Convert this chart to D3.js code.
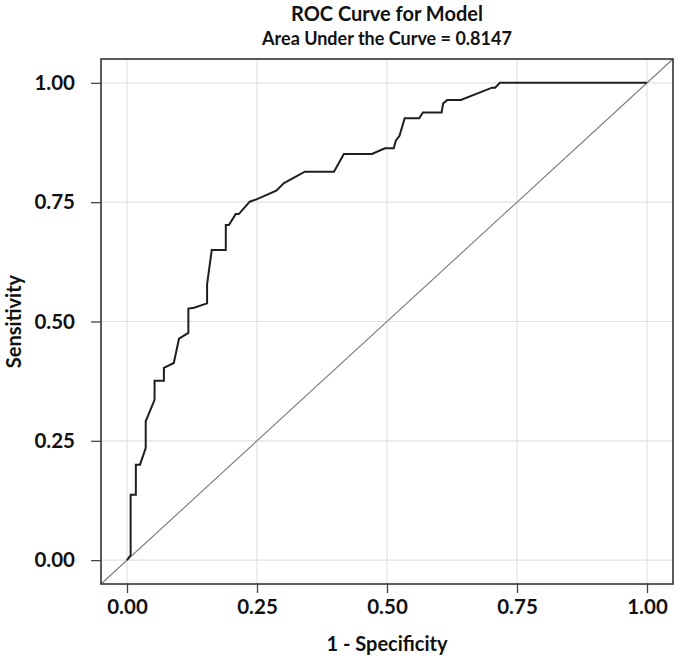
<!DOCTYPE html>
<html>
<head>
<meta charset="utf-8">
<script src="https://cdn.jsdelivr.net/npm/d3@7"></script>
<style>
  body { margin: 0; background: #fff; }
  text { font-family: Lato, "Open Sans", sans-serif; font-weight: 700; fill: #111; }
</style>
</head>
<body>
<script>
// ROC points (false positive rate, true positive rate)
var fpr = [0, 0.007, 0.007, 0.017, 0.017, 0.025, 0.036, 0.036, 0.053, 0.053, 0.071, 0.071, 0.090, 0.100, 0.118, 0.118,
           0.129, 0.154, 0.154, 0.163, 0.190, 0.190, 0.196, 0.209, 0.215, 0.236, 0.249, 0.287, 0.302, 0.315, 0.342,
           0.398, 0.417, 0.471, 0.496, 0.513, 0.517, 0.524, 0.534, 0.562, 0.569, 0.605, 0.608, 0.616, 0.642, 0.702,
           0.708, 0.717, 1]
var tpr = [0, 0.0105, 0.137, 0.137, 0.200, 0.200, 0.235, 0.291, 0.336, 0.376, 0.376, 0.403, 0.413, 0.464, 0.476, 0.527,
           0.529, 0.538, 0.578, 0.650, 0.650, 0.702, 0.702, 0.725, 0.725, 0.751, 0.756, 0.774, 0.790, 0.798, 0.814,
           0.814, 0.851, 0.851, 0.863, 0.863, 0.879, 0.889, 0.926, 0.926, 0.938, 0.938, 0.957, 0.964, 0.964, 0.990,
           0.990, 1, 1]
var ticks = [0, 0.25, 0.5, 0.75, 1]
var title = "ROC Curve for Model"
var subtitle = "Area Under the Curve = 0.8147"

var W = 678, H = 661
var pLeft = 101, pRight = 673, pTop = 59, pBottom = 584

var svg = d3.select("body").append("svg").attr("width", W).attr("height", H)
svg.append("rect").attr("width", W).attr("height", H).attr("fill", "#fff")

var x = d3.scaleLinear().domain([-0.05, 1.05]).range([pLeft, pRight])
var y = d3.scaleLinear().domain([-0.05, 1.05]).range([pBottom, pTop])

// grid
svg.append("g").selectAll("line").data(ticks).enter().append("line")
    .attr("x1", d => x(d)).attr("x2", d => x(d)).attr("y1", pTop).attr("y2", pBottom)
    .attr("stroke", "#e2e2e2").attr("stroke-width", 1.2)
svg.append("g").selectAll("line").data(ticks).enter().append("line")
    .attr("y1", d => y(d)).attr("y2", d => y(d)).attr("x1", pLeft).attr("x2", pRight)
    .attr("stroke", "#e2e2e2").attr("stroke-width", 1.2)

// chance diagonal across the whole panel
svg.append("line")
    .attr("x1", x(-0.05)).attr("y1", y(-0.05)).attr("x2", x(1.05)).attr("y2", y(1.05))
    .attr("stroke", "#7a7a7a").attr("stroke-width", 1.1)

// roc curve
var pts = fpr.map((d, i) => [d, tpr[i]])
svg.append("path").datum(pts)
    .attr("d", d3.line().x(d => x(d[0])).y(d => y(d[1])))
    .attr("fill", "none").attr("stroke", "#1e1e1e").attr("stroke-width", 2)

// panel border
svg.append("rect").attr("x", pLeft).attr("y", pTop).attr("width", pRight - pLeft).attr("height", pBottom - pTop)
    .attr("fill", "none").attr("stroke", "#333").attr("stroke-width", 1.6)

// axes
var fmt = d3.format(".2f")
var xa = svg.append("g").attr("transform", `translate(0,${pBottom})`)
    .call(d3.axisBottom(x).tickValues(ticks).tickFormat(fmt).tickSize(9).tickPadding(6))
var ya = svg.append("g").attr("transform", `translate(${pLeft},0)`)
    .call(d3.axisLeft(y).tickValues(ticks).tickFormat(fmt).tickSize(10).tickPadding(16))
xa.select(".domain").remove()
ya.select(".domain").remove()
svg.selectAll(".tick line").attr("stroke", "#444").attr("stroke-width", 1.3)
svg.selectAll(".tick text").attr("font-family", "Lato").attr("font-size", 20.5).attr("font-weight", 700).attr("fill", "#111")

// titles
var cx = (pLeft + pRight) / 2
svg.append("text").attr("x", cx).attr("y", 21).attr("text-anchor", "middle").attr("font-size", 20).text(title)
svg.append("text").attr("x", cx).attr("y", 45).attr("text-anchor", "middle").attr("font-size", 18).text(subtitle)
svg.append("text").attr("x", cx).attr("y", 651).attr("text-anchor", "middle").attr("font-size", 20).text("1 - Specificity")
svg.append("text").attr("transform", `translate(21,${(pTop + pBottom) / 2}) rotate(-90)`)
    .attr("text-anchor", "middle").attr("font-size", 20).text("Sensitivity")
</script>
</body>
</html>
